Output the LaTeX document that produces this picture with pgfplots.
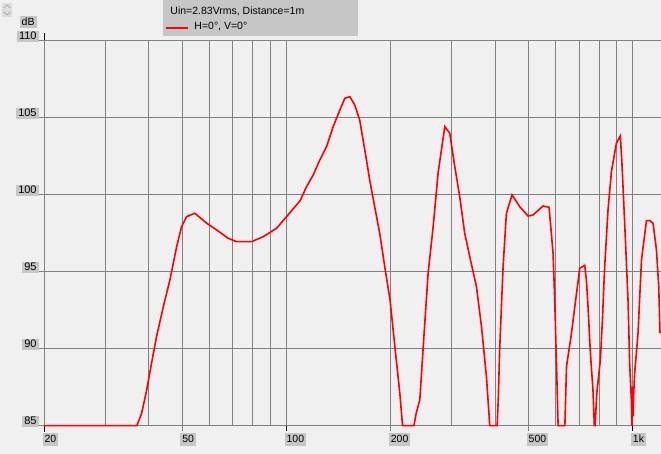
\documentclass[border=0pt]{standalone}
\usepackage{pgfplots}
\pgfplotsset{compat=1.18}
\usepackage{fontspec}
\setmainfont{Liberation Sans}
\definecolor{bg}{HTML}{F0F0F0}
\definecolor{gridgray}{HTML}{808080}
\definecolor{boxgray}{HTML}{C6C6C6}
\begin{document}
\begin{tikzpicture}[x=1pt,y=1pt]
\fill[bg] (0,0) rectangle (661,454);
\useasboundingbox (0,0) rectangle (661,454);
% small scroll widget top-left
\fill[boxgray!60] (2,437) rectangle (12,451);
\draw[gray!60, line width=1pt] (3.5,446) -- (7,449) -- (10.5,446);
\draw[gray!60, line width=1pt] (3.5,442) -- (7,439) -- (10.5,442);
\begin{axis}[
  at={(44.3pt,28.3pt)}, anchor=south west,
  scale only axis, width=616.7pt, height=385.4pt,
  xmode=log, xmin=20, xmax=1207, ymin=85, ymax=110,
  clip=false,
  font=\fontsize{10.5}{12}\selectfont,
  /pgf/number format/assume math mode=true,
  axis lines=left,
  axis line style={-},
  x axis line style={gridgray, line width=0.8pt},
  y axis line style={black, line width=0.8pt, shorten >=-7.3pt, shorten <=-6.3pt},
  tick align=outside,
  xtick={50,200,500}, xticklabels={50,200,500},
  minor xtick={30,40,60,70,80,90,300,400,600,700,800,900},
  extra x ticks={20,100,1000}, extra x tick labels={20,100,1k},
  extra x tick style={grid style={black, line width=0.8pt}, major tick style={black, line width=0.8pt}},
  ytick={85,90,95,100,105,110},
  grid=both,
  major grid style={gridgray, line width=0.8pt},
  minor grid style={gridgray, line width=0.8pt},
  major tick style={gridgray, line width=0.8pt},
  major tick length=5pt, minor tick length=0pt,
  xticklabel style={anchor=north west, fill=boxgray, inner xsep=2pt, inner ysep=2pt, text height=8pt, text depth=1pt, xshift=-2pt, yshift=-2pt},
  yticklabel style={anchor=south east, fill=boxgray, inner xsep=2.5pt, inner ysep=1pt, text height=8pt, text depth=1pt, yshift=-1.5pt, font=\fontsize{11}{12}\selectfont},
  legend style={at={(0.1929,1.1046)}, anchor=north west, fill=boxgray, draw=none,
    inner xsep=1.4pt, inner ysep=6.2pt, row sep=6.5pt, column sep=6pt,
    nodes={inner sep=0pt, text height=8.5pt, text depth=0pt, anchor=base west},
    font=\fontsize{10.5}{12}\selectfont},
  legend cell align=left,
  legend image code/.code={\draw[#1] (0pt,2pt) -- (22pt,2pt);},
]
\addlegendimage{empty legend}
\addlegendentry{\hspace{-24pt}\makebox[186pt][l]{Uin=2.83Vrms, Distance=1m}}
\addplot[red, line width=1.6pt] coordinates {
(20,85)(37.0,85)(38.2,85.8)(39.5,87.3)(40.8,89.05)(42.2,90.8)(44.1,92.7)(46.1,94.45)
(48.2,96.6)(49.8,97.9)(51.5,98.56)(54.4,98.78)(58.9,98.13)(62.9,97.7)(67.9,97.16)
(71.8,96.94)(79.4,96.94)(85.7,97.26)(93.7,97.81)(100.1,98.56)(109.6,99.6)(114.3,100.5)
(119.5,101.26)(124.9,102.24)(130.6,103.1)(136.5,104.4)(142.7,105.48)(147.5,106.24)
(152.5,106.34)(157.6,105.8)(162.8,104.83)(168.4,102.9)(174,100.94)(179.9,99.2)
(186,97.48)(192.4,95.3)(199.2,93.16)(205.7,90.13)(212.6,87.1)(216.5,85)(233.5,85)
(237,85.8)(242.8,86.67)(248.4,90.13)(256.6,94.9)(265.3,97.9)(274.2,101.4)(286.7,104.4)
(296.3,103.97)(306.4,101.8)(316.6,99.86)(327.3,97.48)(338.4,95.97)(354,94.0)
(365.9,91.43)(378.2,88.18)(386.6,85)(406,85)(409,86.7)(413.2,90.13)(422.4,95.32)
(431.8,98.78)(448.3,99.97)(471.9,99.21)(498.7,98.6)(515.6,98.67)(551,99.25)(573.4,99.17)
(588.9,96.19)(595.4,93.16)(602.4,89.05)(609,85)(637,85)(643.9,88.83)(665.6,91.0)
(680.5,92.72)(703.2,95.21)(726.9,95.4)(735,94.45)(743,92.72)(755,89.7)(768,87.3)
(775,85)(779,85)(787.6,87.1)(806.6,89.27)(817.5,91.86)(830,95.32)(848.7,99.0)
(868,101.48)(897,103.32)(921,103.8)(931,102.0)(948,98.13)(969.3,93.16)(980,89.05)
(991,86.67)(995,85)(999,87.5)(1003,85.6)(1006.6,87.1)(1013,88.4)(1036,91.0)(1060,95.75)
(1095.6,98.3)(1120,98.3)(1144.8,98.13)(1171,96.4)(1189,94.0)(1199,91.0)
};
\addlegendentry{H=0°, V=0°}
\node[anchor=south east, fill=boxgray, inner xsep=2pt, inner ysep=1.5pt, text height=8pt, text depth=1pt, xshift=-7.6pt, yshift=12pt] at (rel axis cs:0,1) {dB};
\end{axis}
\end{tikzpicture}
\end{document}
